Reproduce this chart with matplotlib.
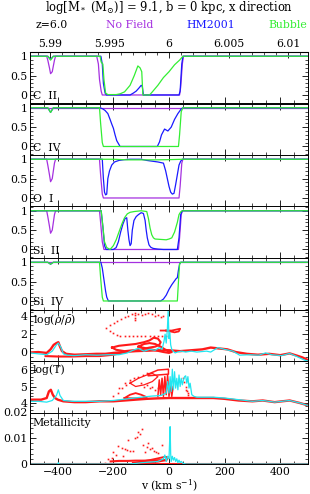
import matplotlib
matplotlib.use("Agg")
import matplotlib.pyplot as plt
from matplotlib.ticker import MultipleLocator, FixedLocator
import numpy as np

plt.rcParams['font.family'] = ['DejaVu Serif']
plt.rcParams['mathtext.fontset'] = 'dejavuserif'

PURPLE = '#a530e0'
BLUE = '#1a1aff'
GREEN = '#33ee33'
RED = '#ff1a1a'
CYAN = '#22e6f0'

# ---- flux spectra (v in km/s, normalised flux) ----
cii_nof_v = [-500, -440, -436, -430, -426, -420, -412, -408, -260, -254, -250, -244, -240, 38, 42, 48, 52, 500]
cii_nof_f = [1, 1, 0.9, 0.7, 0.55, 0.6, 0.9, 1, 1, 0.8, 0.4, 0.1, 0, 0, 0.2, 0.8, 1, 1]
cii_hm_v = [-500, -436, -426, -416, -245, -240, -236, -230, -225, -140, -128, -118, -108, -100, -96, -92, 36, 40, 46, 50, 500]
cii_hm_f = [1, 1, 0.92, 1, 1, 0.8, 0.3, 0.05, 0, 0, 0.05, 0.1, 0.18, 0.25, 0.22, 0, 0, 0.1, 0.8, 1, 1]
cii_bub_v = [-500, -436, -426, -416, -248, -244, -238, -234, -228, -220, -190, -176, -160, -140, -125, -112, -104, -98, -94, -70, -60, -40, -20, 0, 20, 38, 44, 50, 500]
cii_bub_f = [1, 1, 0.9, 1, 1, 0.85, 0.8, 0.4, 0.05, 0.01, 0.01, 0.03, 0.08, 0.25, 0.5, 0.75, 0.7, 0.6, 0, 0, 0.08, 0.25, 0.45, 0.6, 0.78, 0.9, 0.95, 1, 1]

civ_nof_v = [-500, 500]
civ_nof_f = [1, 1]
civ_hm_v = [-500, -436, -426, -416, -248, -238, -230, -220, -212, -206, -200, -194, -188, -180, -176, -42, -34, -27, -16, -4, 8, 20, 32, 44, 50, 500]
civ_hm_f = [1, 1, 0.88, 1, 1, 0.97, 0.93, 0.85, 0.7, 0.58, 0.47, 0.3, 0.15, 0.05, 0, 0, 0.12, 0.3, 0.45, 0.4, 0.5, 0.7, 0.85, 0.97, 1, 1]
civ_bub_v = [-500, -436, -426, -416, -250, -246, -240, -236, 34, 38, 44, 50, 500]
civ_bub_f = [1, 1, 0.88, 1, 1, 0.6, 0.1, 0, 0, 0.3, 0.9, 1, 1]

oi_nof_v = [-500, -440, -436, -430, -426, -420, -412, -408, -250, -246, -240, -236, 36, 40, 46, 50, 500]
oi_nof_f = [1, 1, 0.85, 0.6, 0.42, 0.5, 0.9, 1, 1, 0.6, 0.1, 0, 0, 0.3, 0.9, 1, 1]
oi_hm_v = [-500, -240, -236, -232, -228, -224, -220, -214, -206, -196, -180, -160, -140, -100, -80, -60, -40, -20, -12, -6, 0, 6, 12, 18, 24, 30, 36, 42, 48, 500]
oi_hm_f = [1, 1, 0.5, 0.15, 0.08, 0.1, 0.5, 0.7, 0.85, 0.93, 0.97, 0.99, 1, 1, 0.97, 0.95, 0.93, 0.9, 0.7, 0.5, 0.3, 0.15, 0.1, 0.12, 0.35, 0.6, 0.85, 0.95, 1, 1]
oi_bub_v = [-500, -200, -150, -50, 0, 50, 500]
oi_bub_f = [1, 1, 0.985, 0.985, 0.99, 1, 1]

siii_nof_v = [-500, -440, -436, -430, -426, -420, -412, -408, -250, -246, -240, -234, 34, 38, 44, 48, 500]
siii_nof_f = [1, 1, 0.85, 0.6, 0.42, 0.5, 0.9, 1, 1, 0.7, 0.2, 0, 0, 0.3, 0.9, 1, 1]
siii_hm_v = [-500, -244, -238, -232, -226, -200, -190, -182, -174, -166, -158, -152, -148, -144, -140, -136, -132, -126, -118, -110, -100, -92, -86, -82, -78, -72, -66, -58, -50, -40, -20, 30, 36, 42, 48, 500]
siii_hm_f = [1, 1, 0.6, 0.1, 0, 0, 0.05, 0.2, 0.45, 0.65, 0.8, 0.82, 0.5, 0.25, 0.1, 0.15, 0.5, 0.75, 0.85, 0.9, 0.95, 0.93, 0.75, 0.5, 0.3, 0.12, 0.06, 0.03, 0.02, 0.01, 0, 0, 0.3, 0.9, 1, 1]
siii_bub_v = [-500, -244, -238, -232, -224, -212, -200, -190, -180, -170, -160, -150, -140, -125, -100, -80, -74, -68, -62, -56, -50, -30, -10, 0, 10, 20, 30, 36, 42, 48, 500]
siii_bub_f = [1, 1, 0.6, 0.2, 0.05, 0.0, 0.1, 0.25, 0.45, 0.65, 0.82, 0.92, 0.96, 0.98, 1, 0.98, 0.8, 0.55, 0.38, 0.3, 0.27, 0.26, 0.25, 0.27, 0.3, 0.45, 0.7, 0.9, 0.97, 1, 1]

siiv_nof_v = [-500, 500]
siiv_nof_f = [1, 1]
siiv_hm_v = [-500, -436, -426, -416, -245, -240, -236, -232, -228, -224, -218, -30, -20, -10, 0, 10, 20, 26, 30, 34, 38, 42, 500]
siiv_hm_f = [1, 1, 0.95, 1, 1, 0.85, 0.65, 0.45, 0.25, 0.1, 0, 0, 0.05, 0.15, 0.3, 0.42, 0.52, 0.58, 0.6, 0.8, 0.95, 1, 1]
siiv_bub_v = [-500, -436, -426, -416, -250, -246, -240, -236, 30, 34, 38, 42, 500]
siiv_bub_f = [1, 1, 0.95, 1, 1, 0.6, 0.1, 0, 0, 0.5, 0.95, 1, 1]

ions = ['C  II', 'C  IV', 'O  I', 'Si  II', 'Si  IV']
spectra = [
    [(cii_nof_v, cii_nof_f), (cii_hm_v, cii_hm_f), (cii_bub_v, cii_bub_f)],
    [(civ_nof_v, civ_nof_f), (civ_hm_v, civ_hm_f), (civ_bub_v, civ_bub_f)],
    [(oi_nof_v, oi_nof_f), (oi_hm_v, oi_hm_f), (oi_bub_v, oi_bub_f)],
    [(siii_nof_v, siii_nof_f), (siii_hm_v, siii_hm_f), (siii_bub_v, siii_bub_f)],
    [(siiv_nof_v, siiv_nof_f), (siiv_hm_v, siiv_hm_f), (siiv_bub_v, siiv_bub_f)],
]

# ---- log density along sightline ----
rho_grid_v = [-500, -470, -440, -420, -405, -398, -390, -380, -366, -340, -300, -260, -220, -180, -150, -130, -110, -90, -70, -50, -35, -25, -18, -14, -10, -6, -3, 0, 3, 6, 10, 15, 22, 30, 45, 60, 80, 100, 135, 150, 176, 200, 230, 254, 290, 323, 347, 370, 405, 434, 460, 487, 500]
rho_grid = [-0.1, -0.2, -0.3, 0.1, 0.8, 1.0, 0.6, -0.2, -0.35, -0.4, -0.3, -0.35, -0.3, -0.3, -0.1, 0.2, 0.4, 0.1, 0.3, 0.2, 0.5, 0.3, 1.2, 2.0, 1.0, 2.5, 4.6, 1.5, 2.2, 0.8, 0.3, 0.1, -0.1, 0.0, 0.1, 0.0, 0.1, 0.0, 0.1, 0.0, 0.5, 0.3, 0.1, -0.35, -0.3, -0.35, -0.1, -0.3, -0.4, -0.15, -0.5, -0.9, -1.0]
rho_sph_v = [-500, -470, -440, -426, -415, -405, -398, -392, -385, -370, -340, -300, -260, -229, -200, -165, -120, -80, -40, 0, 40, 80, 120, 150, 180, 210, 240, 280, 320, 360, 400, 434, 460, 480, 500]
rho_sph = [-0.05, 0.0, -0.1, 0.3, 0.8, 1.0, 1.1, 0.6, 0.1, -0.2, -0.3, -0.25, -0.2, -0.2, -0.1, 0.0, 0.1, 0.15, 0.2, 0.2, 0.1, 0.2, 0.3, 0.5, 0.4, 0.3, 0.0, -0.2, -0.3, -0.2, -0.35, -0.15, -0.4, -0.6, -0.9]
rho_sph2_v = [-444, -400, -350, -300, -250, -200, -165]
rho_sph2 = [-0.45, -0.5, -0.5, -0.45, -0.45, -0.3, -0.05]
rho_loop_a_v = [-205, -180, -150, -120, -90, -70, -55, -40, -30, -35, -50, -70, -100, -130, -160, -190, -205]
rho_loop_a = [0.5, 0.7, 0.8, 0.9, 1.1, 1.3, 1.6, 1.5, 1.1, 0.8, 0.6, 0.5, 0.3, 0.2, 0.1, 0.25, 0.5]
rho_loop_b_v = [-110, -90, -70, -50, -30, -15, 0, 10, 0, -20, -50, -80, -110]
rho_loop_b = [0.6, 0.9, 1.0, 0.9, 0.6, 0.3, 0.1, 0.0, -0.1, 0.0, 0.2, 0.4, 0.6]
rho_seg_c_v = [-30, -10, 10, 25, 40, 35, 20, 5, -10]
rho_seg_c = [2.4, 2.4, 2.4, 2.5, 2.6, 2.3, 2.2, 2.3, 2.4]
rho_dots_v = [-225, -212, -199, -186, -173, -160, -147, -134, -122, -110, -98, -86, -74, -62, -50, -40, -30, -20,
              -212, -200, -188, -175, -160, -145, -130, -115, -100, -85, -70, -55, -40, -25, -10, -122, -122, -122]
rho_dots = [2.7, 3.0, 3.25, 3.5, 3.7, 3.9, 4.05, 4.2, 4.35, 4.3, 4.1, 4.25, 4.4, 4.2, 4.0, 4.1, 3.9, 4.0,
            2.4, 2.1, 1.9, 1.8, 1.8, 1.8, 1.75, 1.8, 1.8, 1.75, 1.8, 1.8, 1.8, 1.75, 1.8, 3.6, 3.85, 4.1]

# ---- log temperature ----
T_grid_v = [-500, -470, -440, -420, -405, -398, -392, -380, -350, -300, -250, -200, -150, -100, -60, -30, -10, -5, 0, 4, 8, 12, 16, 20, 24, 28, 32, 36, 40, 44, 48, 52, 56, 60, 64, 68, 72, 76, 82, 90, 100, 130, 160, 200, 250, 300, 337, 380, 434, 470, 500]
T_grid = [4.1, 4.1, 4.05, 4.15, 4.45, 4.8, 4.45, 4.15, 4.1, 4.1, 4.1, 4.15, 4.25, 4.35, 4.42, 4.45, 4.6, 5.3, 4.6, 5.6, 4.7, 6.05, 4.8, 5.9, 4.9, 5.5, 4.8, 5.7, 5.0, 5.5, 5.1, 5.4, 5.6, 5.65, 5.2, 5.6, 4.9, 5.2, 4.5, 4.4, 4.35, 4.35, 4.35, 4.3, 4.2, 4.1, 4.15, 4.05, 4.15, 4.0, 3.85]
T_sph_v = [-500, -460, -440, -432, -425, -418, -410, -400, -380, -340, -300, -250, -200, -160, -120, -80, -40, 0, 40, 80, 120, 160, 200, 250, 300, 337, 380, 434, 470, 500]
T_sph = [4.2, 4.2, 4.3, 4.7, 4.8, 4.5, 4.3, 4.2, 4.1, 4.05, 4.05, 4.1, 4.1, 4.15, 4.2, 4.25, 4.28, 4.3, 4.3, 4.3, 4.3, 4.3, 4.25, 4.15, 4.1, 4.15, 4.05, 4.15, 4.0, 3.85]
T_rect_v = [-75, -40, -2, -2, -40, -75, -75]
T_rect = [5.75, 6.0, 6.05, 5.75, 5.7, 5.65, 5.75]
T_loop_v = [-140, -110, -80, -60, -40, -60, -90, -120, -140]
T_loop = [5.2, 5.5, 5.7, 5.8, 5.6, 5.3, 5.1, 5.0, 5.2]
T_zig_v = [-40, -35, -30, -25, -20, -15, -10, -5, 0, 5, 10, 15]
T_zig = [4.4, 5.4, 4.5, 5.5, 4.4, 5.6, 4.5, 5.7, 4.4, 5.2, 4.4, 5.0]
T_blob_v = [-160, -140, -120, -100, -80, -100, -130, -160]
T_blob = [4.3, 4.5, 4.6, 4.5, 4.35, 4.28, 4.28, 4.3]
T_dots_v = [-200, -185, -170, -155, -140, -125, -110, -95, -80, -100, -90, -80, -70, -60, -50, -40, 50, 55, 60, 62, 65, 68, 70, -180, -160, -140]
T_dots = [4.4, 4.6, 4.9, 5.1, 5.3, 5.5, 5.6, 5.7, 5.8, 5.2, 5.0, 5.1, 4.9, 5.0, 4.8, 4.9, 5.5, 5.3, 5.0, 4.8, 4.7, 4.6, 4.5, 4.9, 5.2, 5.4]

# ---- metallicity ----
Z_grid_v = [-500, -400, -398, -396, -150, -120, -100, -60, -40, -30, -20, -15, -10, -5, 0, 2, 4, 6, 8, 12, 16, 20, 24, 28, 32, 36, 40, 44, 50, 60, 500]
Z_grid = [0, 0, 0.0005, 0, 0, 0.0002, 0.0005, 0.0008, 0.001, 0.0015, 0.002, 0.0035, 0.001, 0.003, 0.002, 0.008, 0.0145, 0.004, 0.001, 0.003, 0.0015, 0.0025, 0.001, 0.002, 0.0005, 0.0015, 0.0005, 0.001, 0.0003, 0, 0]
Z_base_v = [-500, 500]
Z_base = [0.0001, 0.0001]
Z_line1_v = [-210, -180, -150, -120, -90, -60, -30, -10]
Z_line1 = [0.001, 0.0012, 0.0012, 0.0013, 0.0013, 0.0014, 0.0015, 0.0015]
Z_loop_v = [-130, -100, -70, -40, -15, -2, -10, -40, -80, -130]
Z_loop = [0.0004, 0.0009, 0.0015, 0.0022, 0.0028, 0.0026, 0.0015, 0.0009, 0.0005, 0.0004]
Z_dots_v = [-229, -218, -200, -183, -170, -160, -150, -140, -130, -147, -122, -115, -110, -104, -98, -93, -86, -80, -75, -68, -61, -55, -48, -39, -30, -24, -165, -190, -205]
Z_dots = [0.0002, 0.0021, 0.0048, 0.0068, 0.0062, 0.0058, 0.0055, 0.0052, 0.005, 0.0095, 0.0101, 0.0105, 0.0125, 0.0115, 0.0134, 0.0075, 0.0048, 0.0065, 0.0081, 0.0058, 0.0061, 0.0052, 0.0045, 0.0041, 0.002, 0.0075, 0.003, 0.0035, 0.0025]

fig = plt.figure(figsize=(3.10, 4.94), dpi=100)
left, width = 30 / 310, 278 / 310
top, bot = 1 - 52 / 494, 1 - 464 / 494
h = (top - bot) / 8
axes = [fig.add_axes([left, top - (i + 1) * h, width, h]) for i in range(8)]

FS = 7.8


def style(ax):
    ax.set_xlim(-500, 500)
    ax.xaxis.set_major_locator(MultipleLocator(200))
    ax.xaxis.set_minor_locator(MultipleLocator(50))
    ax.tick_params(which='both', direction='in', top=True, right=True, labelsize=FS, pad=2)
    ax.tick_params(which='major', length=4, width=0.6)
    ax.tick_params(which='minor', length=2, width=0.5)
    for s in ax.spines.values():
        s.set_linewidth(0.7)
    ax.tick_params(labelbottom=False)


for i in range(5):
    ax = axes[i]
    style(ax)
    (v0, f0), (v1, f1), (v2, f2) = spectra[i]
    ax.plot(v0, f0, color=PURPLE, lw=0.9)
    ax.plot(v1, f1, color=BLUE, lw=0.9)
    ax.plot(v2, f2, color=GREEN, lw=0.9)
    ax.set_ylim(-0.22, 1.11)
    ax.yaxis.set_major_locator(FixedLocator([0, 0.5, 1]))
    ax.yaxis.set_minor_locator(MultipleLocator(0.1))
    ax.set_yticklabels(['0', '0.5', '1'])
    ax.text(-490, -0.03, ions[i], fontsize=FS, va='center', ha='left')

# density
ax = axes[5]
style(ax)
ax.plot(rho_sph_v, rho_sph, color=RED, lw=1.7)
ax.plot(rho_sph2_v, rho_sph2, color=RED, lw=1.5)
ax.plot(rho_loop_a_v, rho_loop_a, color=RED, lw=1.5)
ax.plot(rho_loop_b_v, rho_loop_b, color=RED, lw=1.5)
ax.plot(rho_seg_c_v, rho_seg_c, color=RED, lw=1.3)
ax.plot(rho_dots_v, rho_dots, ls='none', marker='s', ms=1.2, mew=0, color=RED)
ax.plot(rho_grid_v, rho_grid, color=CYAN, lw=0.9)
ax.set_ylim(-1.0, 4.75)
ax.yaxis.set_major_locator(FixedLocator([0, 2, 4]))
ax.yaxis.set_minor_locator(MultipleLocator(0.5))
ax.set_yticklabels(['0', '2', '4'])
ax.text(-490, 4.45, r'log($\rho/\bar{\rho}$)', fontsize=FS, va='top', ha='left')

# temperature
ax = axes[6]
style(ax)
ax.plot(T_sph_v, T_sph, color=RED, lw=1.7)
ax.plot(T_rect_v, T_rect, color=RED, lw=1.1)
ax.plot(T_loop_v, T_loop, color=RED, lw=0.9)
ax.plot(T_zig_v, T_zig, color=RED, lw=1.1)
ax.plot(T_blob_v, T_blob, color=RED, lw=1.3)
ax.plot(T_dots_v, T_dots, ls='none', marker='s', ms=1.2, mew=0, color=RED)
ax.plot(T_grid_v, T_grid, color=CYAN, lw=0.9)
ax.set_ylim(3.42, 6.55)
ax.yaxis.set_major_locator(FixedLocator([4, 5, 6]))
ax.yaxis.set_minor_locator(MultipleLocator(0.2))
ax.set_yticklabels(['4', '5', '6'])
ax.text(-490, 6.35, 'log(T)', fontsize=FS, va='top', ha='left')

# metallicity
ax = axes[7]
style(ax)
ax.plot(Z_base_v, Z_base, color=RED, lw=1.5)
ax.plot(Z_line1_v, Z_line1, color=RED, lw=1.5)
ax.plot(Z_loop_v, Z_loop, color=RED, lw=1.3)
ax.plot(Z_dots_v, Z_dots, ls='none', marker='s', ms=1.2, mew=0, color=RED)
ax.plot(Z_grid_v, Z_grid, color=CYAN, lw=0.9)
ax.set_ylim(0, 0.02)
ax.yaxis.set_major_locator(FixedLocator([0, 0.01, 0.02]))
ax.yaxis.set_minor_locator(MultipleLocator(0.002))
ax.set_yticklabels(['0', '0.01', '0.02'])
ax.text(-490, 0.0178, 'Metallicity', fontsize=FS, va='top', ha='left')
ax.tick_params(labelbottom=True)
ax.set_xlabel(r'v (km s$^{-1}$)', fontsize=FS, labelpad=1)

# redshift axis on top of first panel
c = 299792.458
secax = axes[0].secondary_xaxis('top', functions=(lambda v: 6 + 7 * np.asarray(v) / c,
                                                  lambda z: (np.asarray(z) - 6) * c / 7))
secax.xaxis.set_major_locator(FixedLocator([5.99, 5.995, 6.0, 6.005, 6.01]))
secax.xaxis.set_minor_locator(MultipleLocator(0.001))
secax.set_xticklabels(['5.99', '5.995', '6', '6.005', '6.01'])
secax.tick_params(which='both', direction='in', labelsize=FS, pad=2)
secax.tick_params(which='major', length=4, width=0.6)
secax.tick_params(which='minor', length=2, width=0.5)
axes[0].tick_params(top=False, which='both')

fig.text(169 / 310, 1 - 7 / 494, r'log[M$_*$ (M$_{\odot}$)] = 9.1, b = 0 kpc, x direction',
         fontsize=8.3, ha='center', va='center')
fig.text(52 / 310, 1 - 25 / 494, 'z=6.0', fontsize=FS, ha='center', va='center')
fig.text(130 / 310, 1 - 25 / 494, 'No Field', fontsize=FS, ha='center', va='center', color=PURPLE)
fig.text(211 / 310, 1 - 25 / 494, 'HM2001', fontsize=FS, ha='center', va='center', color=BLUE)
fig.text(288 / 310, 1 - 25 / 494, 'Bubble', fontsize=FS, ha='center', va='center', color=GREEN)

fig.savefig('out.png', dpi=100)
